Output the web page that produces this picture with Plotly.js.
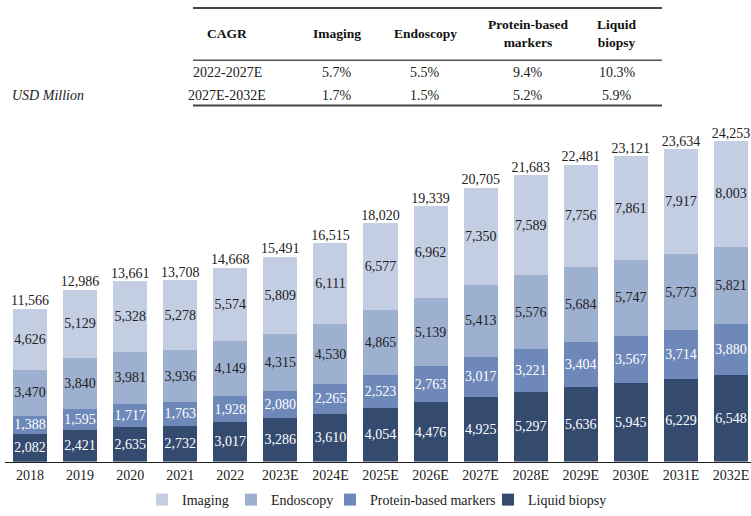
<!DOCTYPE html>
<html><head><meta charset="utf-8">
<script src="https://cdn.plot.ly/plotly-3.0.1.min.js"></script>
<style>html,body{margin:0;padding:0;background:#fff;overflow:hidden}#chart{width:751px;height:516px}</style>
</head><body><div id="chart"></div>
<script>
const years = ["2018","2019","2020","2021","2022","2023E","2024E","2025E","2026E","2027E","2028E","2029E","2030E","2031E","2032E"];
const liquidBiopsy = [2082,2421,2635,2732,3017,3286,3610,4054,4476,4925,5297,5636,5945,6229,6548];
const proteinMarkers = [1388,1595,1717,1763,1928,2080,2265,2523,2763,3017,3221,3404,3567,3714,3880];
const endoscopy = [3470,3840,3981,3936,4149,4315,4530,4865,5139,5413,5576,5684,5747,5773,5821];
const imaging = [4626,5129,5328,5278,5574,5809,6111,6577,6962,7350,7589,7756,7861,7917,8003];
const totals = [11566,12986,13661,13708,14668,15491,16515,18020,19339,20705,21683,22481,23121,23634,24253];

const cagrHeaders = ["CAGR","Imaging","Endoscopy","Protein-based<br>markers","Liquid<br>biopsy"];
const cagrPeriods = ["2022-2027E","2027E-2032E"];
const cagrImaging = ["5.7%","1.7%"];
const cagrEndoscopy = ["5.5%","1.5%"];
const cagrProtein = ["9.4%","5.2%"];
const cagrLiquid = ["10.3%","5.9%"];

const W = 751, H = 516;
const px = x => x / W, py = y => (H - y) / H;
const FONT = "Liberation Serif, Times New Roman, serif";
const fmt = v => v.toLocaleString("en-US");

function barTrace(name, vals, color, txtColor, leg){
  return {type:"bar", name:name, x:years, y:vals, marker:{color:color}, legend:leg,
    text: vals.map(fmt), textposition:"inside", insidetextanchor:"middle",
    constraintext:"none", textangle:0,
    textfont:{family:FONT, size:14, color:txtColor}, hoverinfo:"skip"};
}
const traces = [
  barTrace("Liquid biopsy", liquidBiopsy, "#344b6f", "#ffffff", "legend4"),
  barTrace("Protein-based markers", proteinMarkers, "#6e88b9", "#ffffff", "legend3"),
  barTrace("Endoscopy", endoscopy, "#9eb0d0", "#222222", "legend2"),
  barTrace("Imaging", imaging, "#c3cee3", "#222222", "legend"),
  {type:"scatter", mode:"text", x:years, y:totals, text:totals.map(fmt),
   textposition:"top center", textfont:{family:FONT, size:14, color:"#222"},
   showlegend:false, hoverinfo:"skip", cliponaxis:false}
];

const colX = [227, 337, 425, 528, 617];
const ann = [];
cagrHeaders.forEach((h,i)=>ann.push({text:"<b>"+h+"</b>", x:px(colX[i]), y:py(34), xref:"paper", yref:"paper",
  showarrow:false, xanchor:"center", yanchor:"middle", font:{family:FONT, size:13.5, color:"#111"}}));
const rows = [cagrPeriods, cagrImaging, cagrEndoscopy, cagrProtein, cagrLiquid];
const rowY = [73, 97];
rows.forEach((col,i)=>col.forEach((v,j)=>ann.push({text:v, x:px(colX[i]), y:py(rowY[j]), xref:"paper", yref:"paper",
  showarrow:false, xanchor:"center", yanchor:"middle", font:{family:FONT, size:14, color:"#222"}})));
ann.push({text:"<i>USD Million</i>", x:px(10), y:py(97), xref:"paper", yref:"paper", showarrow:false,
  xanchor:"left", yanchor:"middle", font:{family:FONT, size:14, color:"#222"}});

const shapes = [
  {type:"line", xref:"paper", yref:"paper", x0:px(193), x1:px(662), y0:py(8), y1:py(8), line:{color:"#444", width:2}},
  {type:"line", xref:"paper", yref:"paper", x0:px(193), x1:px(662), y0:py(61), y1:py(61), line:{color:"#555", width:1.5}},
  {type:"line", xref:"paper", yref:"paper", x0:px(193), x1:px(662), y0:py(107), y1:py(107), line:{color:"#444", width:2}}
];

function leg(x){
  return {orientation:"h", x:px(x), xanchor:"left", y:py(507), yanchor:"middle",
    font:{family:FONT, size:14, color:"#222"}, bgcolor:"rgba(0,0,0,0)"};
}
const layout = {
  width:W, height:H, margin:{l:0,r:0,t:0,b:0,pad:0}, paper_bgcolor:"#fff", plot_bgcolor:"#fff",
  barmode:"stack", bargap:0.32, showlegend:true,
  font:{family:FONT, size:14, color:"#222"},
  xaxis:{domain:[px(5),1], range:[-0.5,14.4], type:"category", automargin:false,
    showline:true, linecolor:"#222", linewidth:1.5, ticks:"", showgrid:false,
    tickfont:{family:FONT, size:14, color:"#222"}},
  yaxis:{domain:[py(468), py(130)], range:[0,25224], visible:false, showgrid:false, automargin:false},
  legend:leg(142), legend2:leg(231), legend3:leg(330), legend4:leg(488),
  uniformtext:{mode:"show", minsize:12},
  annotations:ann, shapes:shapes
};
Plotly.newPlot("chart", traces, layout, {displayModeBar:false, staticPlot:true});
</script></body></html>
